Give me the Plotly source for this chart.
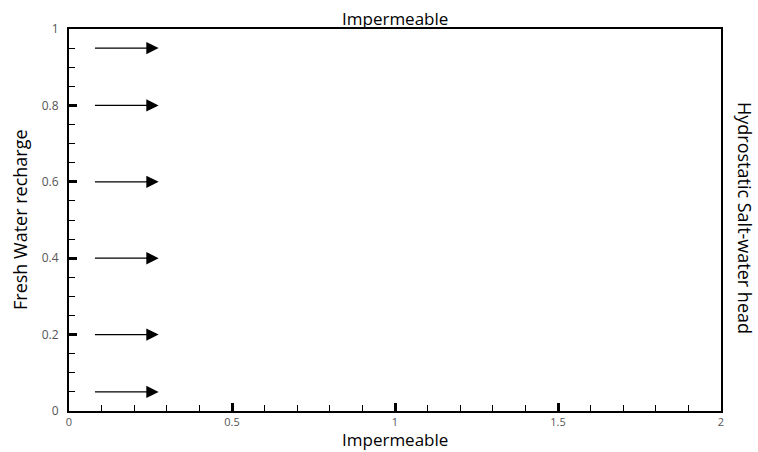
import plotly.graph_objects as go

# Data
arrow_y = [0.95, 0.8, 0.6, 0.4, 0.2, 0.05]
arrow_x_start = [0.075, 0.075, 0.075, 0.075, 0.075, 0.075]
arrow_x_end = [0.275, 0.275, 0.275, 0.275, 0.275, 0.275]
x_ticks = [0, 0.5, 1, 1.5, 2]
x_tick_labels = ["0", "0.5", "1", "1.5", "2"]
y_ticks = [0, 0.2, 0.4, 0.6, 0.8, 1]
y_tick_labels = ["0", "0.2", "0.4", "0.6", "0.8", "1"]

FONT = "Open Sans"

fig = go.Figure()
fig.add_trace(go.Scatter(x=[0, 2], y=[0, 1], mode="markers",
                         marker=dict(opacity=0), hoverinfo="skip", showlegend=False))

for xs, xe, y in zip(arrow_x_start, arrow_x_end, arrow_y):
    fig.add_annotation(x=xe, y=y, ax=xs, ay=y, xref="x", yref="y",
                       axref="x", ayref="y", showarrow=True, text="",
                       arrowhead=2, arrowsize=1.9, arrowwidth=1.3,
                       arrowcolor="black")

axis_common = dict(showgrid=False, zeroline=False, showline=True,
                   linecolor="black", linewidth=2, mirror=True,
                   ticks="inside", ticklen=8, tickwidth=3, tickcolor="black")

fig.update_xaxes(range=[0, 2], tickvals=x_ticks, ticktext=x_tick_labels,
                 ticklabelstandoff=0,
                 tickfont=dict(family=FONT, size=11, color="#555555"),
                 minor=dict(ticks="inside", ticklen=6, tickwidth=1.2,
                            tickcolor="black", dtick=0.1, tick0=0),
                 **axis_common)
fig.update_yaxes(range=[0, 1], tickvals=y_ticks, ticktext=y_tick_labels,
                 ticklabelstandoff=6,
                 tickfont=dict(family=FONT, size=12, color="#555555"),
                 minor=dict(ticks="inside", ticklen=6, tickwidth=1.2,
                            tickcolor="black", dtick=0.05, tick0=0),
                 **axis_common)

title_font = dict(family=FONT, size=17, color="black")
fig.add_annotation(text="Impermeable", xref="paper", yref="paper", x=0.5, y=1,
                   yanchor="middle", xanchor="center",
                   yshift=11, showarrow=False, font=title_font)
fig.add_annotation(text="Impermeable", xref="paper", yref="paper", x=0.5, y=0,
                   yanchor="middle", xanchor="center",
                   yshift=-28, showarrow=False, font=title_font)
fig.add_annotation(text="Fresh Water recharge", xref="paper", yref="paper",
                   x=0, y=0.5, xanchor="center", yanchor="middle",
                   xshift=-49, textangle=-90, showarrow=False,
                   font=dict(family=FONT, size=18, color="black"))
fig.add_annotation(text="Hydrostatic Salt-water head", xref="paper", yref="paper",
                   x=1, y=0.5, xanchor="center", yanchor="middle",
                   xshift=24, yshift=2, textangle=90, showarrow=False,
                   font=dict(family=FONT, size=18, color="black"))

fig.update_layout(width=758, height=452,
                  margin=dict(l=69, r=37, t=29, b=41),
                  plot_bgcolor="white", paper_bgcolor="white",
                  showlegend=False)

fig.write_html("out.html")
